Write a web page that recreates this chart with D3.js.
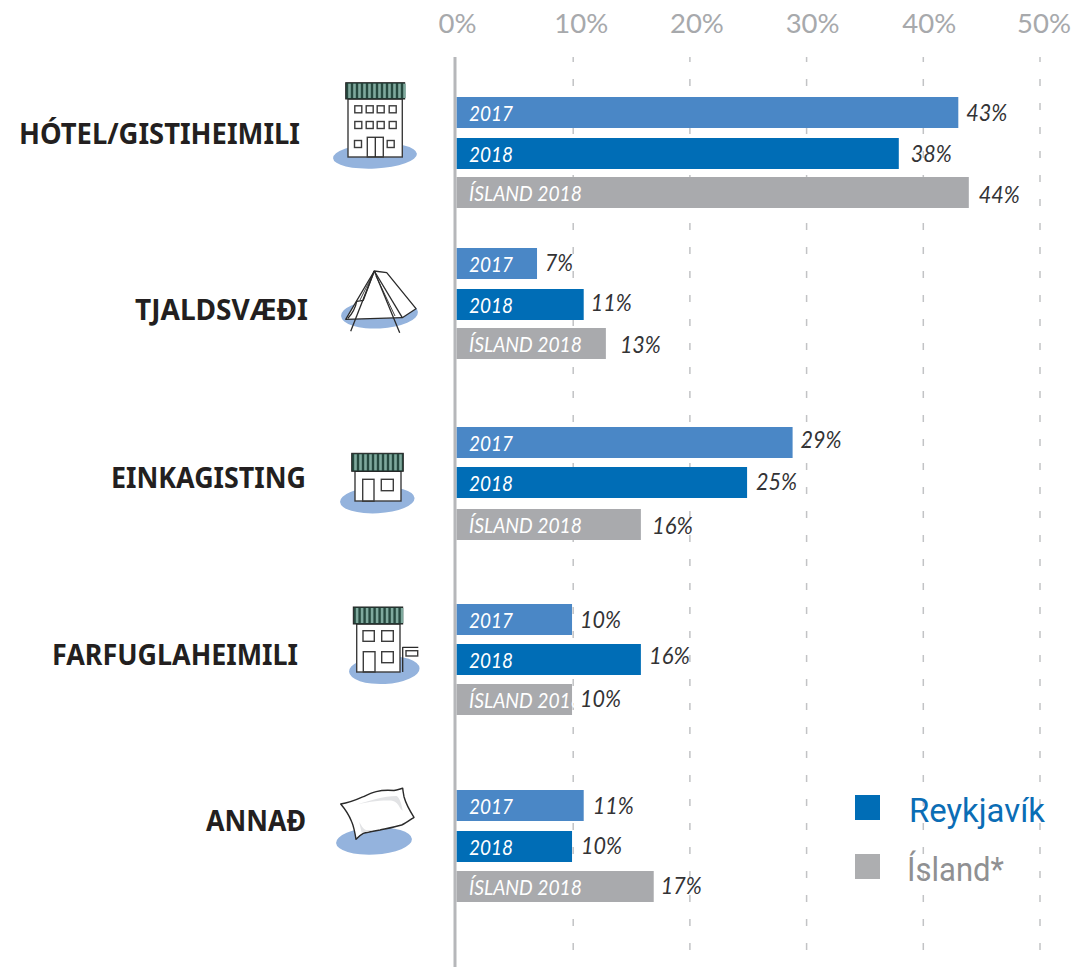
<!DOCTYPE html>
<meta charset="utf-8">
<script src="https://d3js.org/d3.v7.min.js"></script>
<style>
    html, body { margin: 0; padding: 0; background: #fff; }
    svg { display: block; font-family: Lato, sans-serif; }
</style>
<div id="chart"></div>
<script>
    // Data
    var categories = ["HÓTEL/GISTIHEIMILI", "TJALDSVÆÐI", "EINKAGISTING", "FARFUGLAHEIMILI", "ANNAÐ"];
    var seriesNames = ["2017", "2018", "ÍSLAND 2018"];
    var values2017 = [43, 6.9, 28.8, 9.9, 10.9];
    var values2018 = [37.9, 10.9, 24.9, 15.8, 9.9];
    var valuesIsland = [43.9, 12.8, 15.8, 9.9, 16.9];
    var labels2017 = ["43%", "7%", "29%", "10%", "11%"];
    var labels2018 = ["38%", "11%", "25%", "16%", "10%"];
    var labelsIsland = ["44%", "13%", "16%", "10%", "17%"];
    var tickValues = [0, 10, 20, 30, 40, 50];
    var legendNames = ["Reykjavík", "Ísland*"];

    var width = 1081, height = 967;

    var svg = d3.select("#chart").append("svg")
        .attr("width", width)
        .attr("height", height);

    var x = d3.scaleLinear().domain([0, 50]).range([456.5, 1040]);

    // rows are not evenly spaced in the original, so one top per row
    var rowKeys = [];
    categories.forEach(function (c) {
        seriesNames.forEach(function (s) { rowKeys.push(c + "|" + s); });
    });
    var rowTop = d3.scaleOrdinal().domain(rowKeys).range([
        97, 138, 177,
        248, 289, 328,
        427, 467, 509,
        604, 644, 684,
        790, 831, 871
    ]);
    var barColor = d3.scaleOrdinal().domain(seriesNames).range(["#4a87c6", "#006db6", "#a9aaad"]);
    var nameWidth = d3.scaleOrdinal().domain(seriesNames).range([44, 44, 113]);
    var barHeight = 31;

    // label nudges, the original was hand placed
    var labelDx = [8, 12, 10, 8, 7, 14, 8, 9, 11, 8, 8, 8, 9, 9, 7];
    var labelDy = [1, 1, 3, 0, -1, 2, -2, 0, 2, 1, -3, 0, 1, 0, 0];

    var rows = [];
    categories.forEach(function (c, i) {
        rows.push({ key: c + "|2017", series: "2017", value: values2017[i], label: labels2017[i] });
        rows.push({ key: c + "|2018", series: "2018", value: values2018[i], label: labels2018[i] });
        rows.push({ key: c + "|ÍSLAND 2018", series: "ÍSLAND 2018", value: valuesIsland[i], label: labelsIsland[i] });
    });

    // X axis with the dashed grid
    var axis = d3.axisTop(x)
        .tickValues(tickValues)
        .tickFormat(function (d) { return d + "%"; })
        .tickSize(0)
        .tickPadding(0);
    var axisG = svg.append("g").attr("transform", "translate(0,33)").call(axis);
    axisG.select(".domain").remove();
    var tickShift = [0.5, 7.5, 6.5, 5.5, 5.5, 3.5];
    axisG.selectAll("text")
        .attr("x", function (d, i) { return tickShift[i]; })
        .attr("y", 0)
        .attr("dy", 0)
        .attr("font-size", 27.5)
        .attr("font-family", "Lato, sans-serif")
        .attr("fill", "#a7a9ac");

    svg.append("g").selectAll("line")
        .data(tickValues.slice(1))
        .enter().append("line")
        .attr("x1", function (d) { return x(d); })
        .attr("x2", function (d) { return x(d); })
        .attr("y1", 57)
        .attr("y2", height)
        .attr("stroke", "#c2c3c5")
        .attr("stroke-width", 1.5)
        .attr("stroke-dasharray", "7 17")
        .attr("stroke-dashoffset", 2);

    // Bars
    svg.append("g").selectAll("rect")
        .data(rows)
        .enter().append("rect")
        .attr("x", x(0))
        .attr("y", function (d) { return rowTop(d.key); })
        .attr("width", function (d) { return x(d.value) - x(0); })
        .attr("height", barHeight)
        .attr("fill", function (d) { return barColor(d.series); });

    // zero line
    svg.append("line")
        .attr("x1", x(0) - 1.5).attr("x2", x(0) - 1.5)
        .attr("y1", 57).attr("y2", height)
        .attr("stroke", "#b6b7ba")
        .attr("stroke-width", 3);

    // series name inside the bar, white on white past the end just disappears
    svg.append("g").selectAll("text")
        .data(rows)
        .enter().append("text")
        .attr("x", 469)
        .attr("y", function (d) { return rowTop(d.key) + 24; })
        .attr("textLength", function (d) { return nameWidth(d.series); })
        .attr("lengthAdjust", "spacingAndGlyphs")
        .attr("font-size", 21.5)
        .attr("font-style", "italic")
        .attr("fill", "#fff")
        .text(function (d) { return d.series; });

    // value labels
    svg.append("g").selectAll("text")
        .data(rows)
        .enter().append("text")
        .attr("x", function (d, i) { return x(d.value) + labelDx[i]; })
        .attr("y", function (d, i) { return rowTop(d.key) + 23 + labelDy[i]; })
        .attr("textLength", function (d) { return d.label.length === 2 ? 28 : 41; })
        .attr("lengthAdjust", "spacingAndGlyphs")
        .attr("font-size", 23)
        .attr("font-style", "italic")
        .attr("fill", "#333335")
        .text(function (d) { return d.label; });

    // Category labels
    var catRight = [300, 308, 306, 298, 306];
    var catBase = [144, 320, 488, 665, 831];
    var catWidth = [281, 173, 195, 246, 100];
    svg.append("g").selectAll("text")
        .data(categories)
        .enter().append("text")
        .attr("x", function (d, i) { return catRight[i] - catWidth[i]; })
        .attr("y", function (d, i) { return catBase[i]; })
        .attr("textLength", function (d, i) { return catWidth[i]; })
        .attr("lengthAdjust", "spacingAndGlyphs")
        .attr("font-family", "Noto Sans, sans-serif")
        .attr("font-size", 28)
        .attr("font-weight", 700)
        .attr("fill", "#231f20")
        .text(function (d) { return d; });

    // Legend
    var legendColor = d3.scaleOrdinal().domain(legendNames).range(["#006db6", "#adaeb0"]);
    var legendText = d3.scaleOrdinal().domain(legendNames).range(["#0b6db5", "#8f9092"]);
    var legendY = d3.scaleOrdinal().domain(legendNames).range([795, 854]);
    var legendTextX = d3.scaleOrdinal().domain(legendNames).range([909, 907]);
    var legendTextW = d3.scaleOrdinal().domain(legendNames).range([136, 97]);
    var legend = svg.append("g").selectAll("g")
        .data(legendNames)
        .enter().append("g");
    legend.append("rect")
        .attr("x", 855)
        .attr("y", function (d) { return legendY(d); })
        .attr("width", 25)
        .attr("height", 25)
        .attr("fill", function (d) { return legendColor(d); });
    legend.append("text")
        .attr("x", function (d) { return legendTextX(d); })
        .attr("y", function (d) { return legendY(d) + 27; })
        .attr("textLength", function (d) { return legendTextW(d); })
        .attr("lengthAdjust", "spacingAndGlyphs")
        .attr("font-family", "Roboto, sans-serif")
        .attr("font-size", 34)
        .attr("fill", function (d) { return legendText(d); })
        .text(function (d) { return d; });

    // Icons, plain svg drawing
    var icons = svg.append("g");
    var lineCol = "#3c3c3c";

    function blob(cx, cy, rx, ry) {
        icons.append("ellipse")
            .attr("cx", cx).attr("cy", cy).attr("rx", rx).attr("ry", ry)
            .attr("fill", "#94b3dd")
            .attr("transform", "rotate(-3 " + cx + " " + cy + ")");
    }
    function box(x0, y0, x1, y1, sw, fill) {
        icons.append("rect")
            .attr("x", x0).attr("y", y0)
            .attr("width", x1 - x0).attr("height", y1 - y0)
            .attr("fill", fill || "none")
            .attr("stroke", lineCol)
            .attr("stroke-width", sw || 1.4);
    }
    function roof(x0, y0, x1, y1) {
        icons.append("rect")
            .attr("x", x0).attr("y", y0)
            .attr("width", x1 - x0).attr("height", y1 - y0)
            .attr("fill", "#26493f")
            .attr("stroke", "#222")
            .attr("stroke-width", 1);
        d3.range(x0 + 2.5, x1 - 1, 5).forEach(function (sx) {
            icons.append("rect")
                .attr("x", sx).attr("y", y0 + 1)
                .attr("width", 2.6).attr("height", y1 - y0 - 2)
                .attr("fill", "#7fa99d");
        });
    }
    function stroke(d, sw) {
        icons.append("path")
            .attr("d", d)
            .attr("fill", "none")
            .attr("stroke", "#2a2a2a")
            .attr("stroke-width", sw || 1.3)
            .attr("stroke-linejoin", "round");
    }

    // hotel
    blob(375, 156, 42, 12.5);
    box(348, 99, 402.3, 157, 1.4, "#fff");
    roof(345.7, 82.7, 404.7, 99);
    [358.3, 369.7, 380.7, 392.7].forEach(function (wx) {
        box(wx - 3.5, 105.8, wx + 3.5, 112.8);
        box(wx - 3.5, 121.5, wx + 3.5, 128.5);
    });
    box(354.5, 140.5, 361.5, 147.5);
    box(387.2, 140.5, 394.2, 147.5);
    box(367.3, 137.3, 383.3, 157);
    stroke("M375.3,137.3V157");

    // tent
    blob(379.5, 314, 38.5, 14.5);
    icons.append("path")
        .attr("d", "M374.3,271L386.7,272.7L416,308.7L402.3,317.7L345.7,319.3Z")
        .attr("fill", "#fff");
    stroke("M374.3,271L386.7,272.7L416,308.7L402.3,317.7L345.7,319.3Z");
    stroke("M374.3,271L402.3,317.7");
    stroke("M374.3,271L350.7,331.3");
    stroke("M374.3,271L399.7,332.7");
    stroke("M376,276L395,316", 0.9);
    stroke("M374.3,271L363.3,300.3L356.7,301.3C355,310 351,315 347.7,318.5");
    stroke("M372,276L360,300", 0.9);

    // private house
    blob(377.3, 500, 37.3, 13.3);
    box(355, 471.3, 401, 501, 1.4, "#fff");
    roof(351.7, 453.3, 403.3, 471.3);
    box(362.7, 479.3, 374, 501.3);
    box(381.3, 479.3, 393.3, 490.7);

    // hostel
    blob(384.3, 670, 35.3, 14);
    box(356.7, 624, 400, 672, 1.4, "#fff");
    roof(353.3, 607, 402.7, 624);
    box(363, 630.7, 374.3, 641.3);
    box(381.7, 630.7, 393.3, 641.3);
    box(363.3, 651.7, 375, 672);
    box(381.7, 651.7, 393.3, 662.7);
    stroke("M402.7,672V647.3H418.3");
    box(406, 650.7, 417.7, 656);

    // pillow
    blob(374, 841, 38, 13.5);
    icons.append("path")
        .attr("d", "M340.7,804C348,803 356,800 363.3,796.7C371,793 379,789 394,790.5C397,790 400,789 402.7,788.3C403,791 403.5,794 404,796.7C406,804 410,811 414,817.3C410,820 406,823 401.7,825C395,827 387,828.5 380,830C374,831 369,832 363.3,833.3C360,835 358,837 356,839.3C355,833 354,827 351.7,821.7C349,815 345,809 340.7,804Z")
        .attr("fill", "#fff")
        .attr("stroke", "#2a2a2a")
        .attr("stroke-width", 1.4)
        .attr("stroke-linejoin", "round");
    icons.append("path")
        .attr("d", "M355,805C368,801 384,796 396.7,796C400,798 402,806 402.7,810.7C400,809 399,806 398.3,805C396,802 394,801 391,800.5C380,800 366,802 355,805Z")
        .attr("fill", "#e2e3e5");
    icons.append("path")
        .attr("d", "M359.3,821.7C360,826 361,830 361.7,832.7C366,832 370,831 373.3,830C370,830 368,830 366,830C363,829 361,825 359.3,821.7Z")
        .attr("fill", "#e2e3e5");
</script>
